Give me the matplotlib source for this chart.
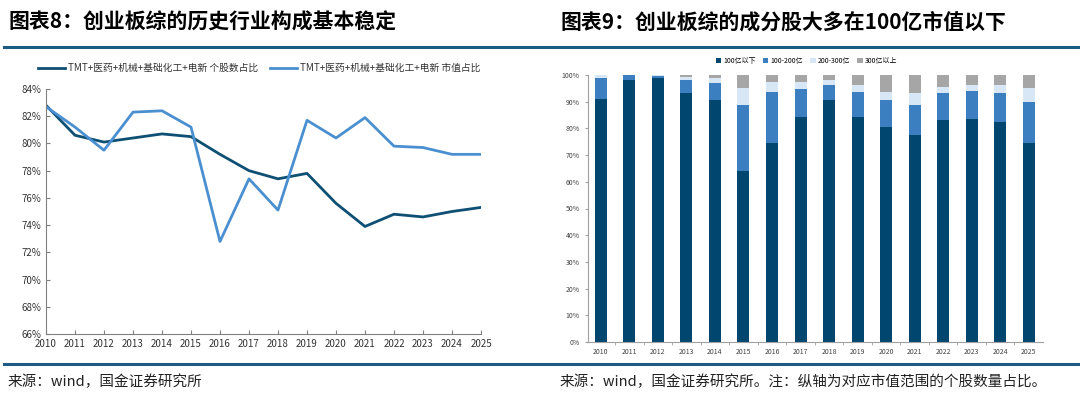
import numpy as np
import matplotlib
matplotlib.use("Agg")
import matplotlib.pyplot as plt
from matplotlib.lines import Line2D
from matplotlib.ticker import FuncFormatter, FixedLocator

plt.rcParams['font.family'] = ['Noto Sans CJK SC', 'DejaVu Sans']

# left chart: share of TMT+pharma+machinery+chemicals+power equipment
years = list(range(2010, 2026))
count_share = [82.8, 80.6, 80.1, 80.4, 80.7, 80.5, 79.2, 78.0, 77.4, 77.8,
               75.6, 73.9, 74.8, 74.6, 75.0, 75.3]
mcap_share = [82.7, 81.2, 79.5, 82.3, 82.4, 81.2, 72.8, 77.4, 75.1, 81.7,
              80.4, 81.9, 79.8, 79.7, 79.2, 79.2]
left_labels = ['TMT+医药+机械+基础化工+电新 个股数占比',
               'TMT+医药+机械+基础化工+电新 市值占比']

# right chart: constituents by market cap bucket
bar_years = [str(y) for y in years]
below_100 = [90.9, 98.0, 99.0, 93.3, 90.6, 63.9, 74.5, 84.4, 90.5, 84.4,
             80.5, 77.4, 83.3, 83.6, 82.4, 74.4]
b100_200 = [8.1, 2.0, 0.6, 4.8, 6.3, 25.0, 19.0, 10.4, 5.6, 9.2,
            10.1, 11.5, 9.8, 10.3, 10.9, 15.5]
b200_300 = [1.0, 0.0, 0.4, 1.0, 2.0, 6.2, 3.8, 2.7, 2.0, 2.5,
            2.9, 4.4, 2.5, 2.5, 3.0, 5.1]
above_300 = [0.0, 0.0, 0.0, 0.9, 1.1, 4.9, 2.7, 2.5, 1.9, 3.9,
             6.5, 6.7, 4.4, 3.6, 3.7, 5.0]
bar_labels = ['100亿以下', '100-200亿', '200-300亿', '300亿以上']
bar_colors = ['#00466e', '#3c7fc1', '#d7e7f5', '#a6a6a6']

fig = plt.figure(figsize=(10.8, 3.99), dpi=100)
W, H = 1080, 399

def fx(px):
    return px / W

def fy(py):
    return 1 - py / H

# titles and separator lines
fig.text(fx(8), fy(22), '图表8：创业板综的历史行业构成基本稳定', fontsize=15,
         fontweight='bold', va='center', ha='left')
fig.text(fx(560), fy(22), '图表9：创业板综的成分股大多在100亿市值以下', fontsize=15,
         fontweight='bold', va='center', ha='left')
for yy in (47, 364):
    fig.add_artist(Line2D([fx(4), fx(1078)], [fy(yy), fy(yy)], color='#1d5a84',
                          lw=2.2, transform=fig.transFigure))
fig.text(fx(8), fy(382), '来源：wind，国金证券研究所', fontsize=10.5,
         va='center', ha='left', color='#222222')
fig.text(fx(560), fy(382), '来源：wind，国金证券研究所。注：纵轴为对应市值范围的个股数量占比。',
         fontsize=10.5, va='center', ha='left', color='#222222')

pct = FuncFormatter(lambda v, p: '%d%%' % round(v))

# ---- left line chart
ax1 = fig.add_axes([fx(46), fy(334), fx(481 - 46), (334 - 89) / H])
ax1.plot(years, count_share, color='#0e4f74', lw=2, label=left_labels[0])
ax1.plot(years, mcap_share, color='#4a8fd0', lw=2, label=left_labels[1])
ax1.set_xlim(2010, 2025)
ax1.set_ylim(66, 84)
ax1.set_yticks(np.arange(66, 85, 2))
ax1.set_xticks(years)
ax1.yaxis.set_major_formatter(pct)
for s in ('top', 'right'):
    ax1.spines[s].set_visible(False)
for s in ('left', 'bottom'):
    ax1.spines[s].set_color('#808080')
    ax1.spines[s].set_linewidth(0.8)
ax1.tick_params(direction='in', length=3, color='#808080', labelsize=7,
                labelcolor='#333333')
ax1.legend(loc='center', bbox_to_anchor=(0.49, (68 - 334) / (89 - 334)),
           ncol=2, frameon=False, fontsize=7, handlelength=2.8,
           columnspacing=1.2, handletextpad=0.3, labelcolor='#333333')

# ---- right stacked bar chart
ax2 = fig.add_axes([fx(588), fy(342), fx(1043 - 588), (342 - 75) / H])
x = np.arange(len(bar_years))
bottom = np.zeros(len(x))
for vals, lab, col in zip([below_100, b100_200, b200_300, above_300],
                          bar_labels, bar_colors):
    ax2.bar(x, vals, 0.42, bottom=bottom, color=col, label=lab)
    bottom += np.array(vals)
ax2.set_xlim(-0.45, 15.5)
ax2.set_ylim(0, 100)
ax2.set_yticks(np.arange(0, 101, 10))
ax2.yaxis.set_major_formatter(pct)
ax2.set_xticks(x)
ax2.set_xticklabels(bar_years)
ax2.xaxis.set_minor_locator(FixedLocator(x[:-1] + 0.5))
for s in ('top', 'right'):
    ax2.spines[s].set_visible(False)
for s in ('left', 'bottom'):
    ax2.spines[s].set_color('#a0a0a0')
    ax2.spines[s].set_linewidth(0.8)
ax2.tick_params(axis='y', direction='out', length=2.5, color='#a0a0a0',
                labelsize=5, labelcolor='#444444')
ax2.tick_params(axis='x', which='major', direction='out', length=0,
                labelsize=5, labelcolor='#444444', pad=4)
ax2.tick_params(axis='x', which='minor', direction='out', length=2,
                color='#a0a0a0')
ax2.legend(loc='center', bbox_to_anchor=(0.48, (342 - 61) / (342 - 75)),
           ncol=4, frameon=False, fontsize=5, handlelength=0.8,
           handleheight=0.8, columnspacing=1.0, handletextpad=0.3)

fig.savefig('out.png', dpi=100)
